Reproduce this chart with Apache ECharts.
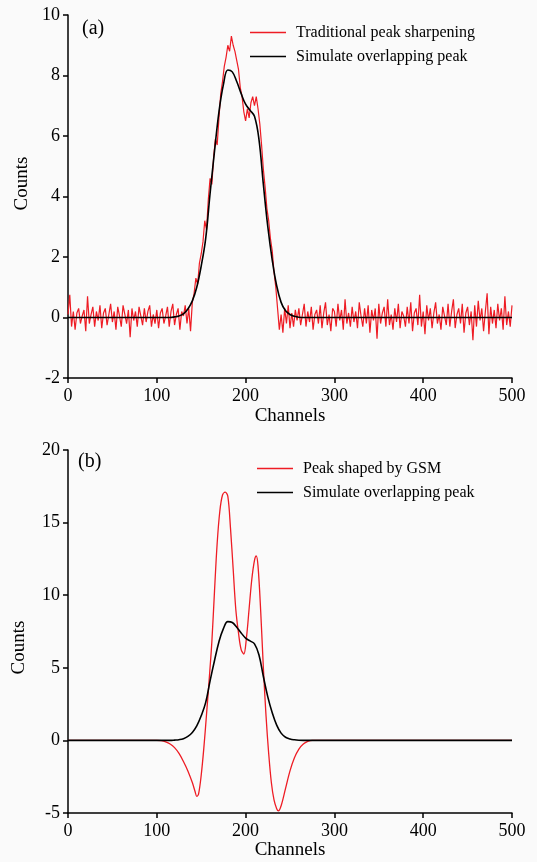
<!DOCTYPE html>
<html><head><meta charset="utf-8">
<script src="https://cdn.jsdelivr.net/npm/echarts@6/dist/echarts.min.js"></script>
<style>html,body{margin:0;padding:0;background:#fafafa}#c{width:537px;height:862px}</style>
</head><body><div id="c"></div>
<script>
// ---- Data ----
// Panel (a): traditional peak sharpening, sampled every 2 channels (0..500)
const sharpStep = 2;
const sharpValues = [
 0.1, 0.75, -0.3, 0.2, -0.4, 0.15, 0.3, -0.2, 0.05, 0.25,
 -0.45, 0.7, -0.2, 0.1, 0.35, -0.3, 0.2, -0.1, 0.4, -0.35,
 0.15, 0.3, -0.25, 0.1, 0.45, -0.15, 0.2, -0.4, 0.35, 0.05,
 -0.3, 0.4, 0.1, -0.2, 0.25, -0.65, 0.3, -0.1, 0.2, -0.3,
 0.35, 0.05, -0.25, 0.3, -0.15, 0.2, 0.4, -0.3, 0.1, -0.2,
 0.25, -0.35, 0.15, 0.3, -0.2, 0.05, 0.35, -0.3, 0.2, 0.45,
 -0.25, 0.1, 0.3, -0.4, 0.2, 0.05, 0.4, -0.2, 0.3, -0.45,
 0.5, 0.8, 1.3, 1.1, 1.8, 2.1, 2.5, 3.2, 2.9, 3.9,
 4.6, 4.4, 5.3, 5.9, 5.7, 6.6, 7.4, 7.8, 8.3, 8.6,
 9.0, 8.8, 9.3, 9.0, 8.8, 8.5, 8.2, 7.6, 7.3, 6.8,
 6.5, 6.9, 6.6, 7.1, 7.3, 7.0, 7.3, 6.9, 6.4, 5.7,
 4.9, 4.3, 3.6, 3.2, 2.6, 2.2, 1.5, 1.0, 0.3, -0.4,
 0.1, -0.5, 0.3, -0.2, 0.4, -0.35, 0.15, -0.3, 0.25, -0.1,
 0.3, -0.25, 0.1, 0.45, -0.3, 0.2, -0.15, 0.35, -0.4, 0.1,
 0.25, -0.2, 0.4, -0.35, 0.15, 0.5, -0.25, 0.1, -0.45, 0.3,
 0.2, -0.3, 0.45, -0.1, 0.25, -0.4, 0.6, -0.2, 0.15, -0.3,
 0.35, -0.15, 0.2, -0.35, 0.5, 0.05, -0.3, 0.3, -0.2, 0.4,
 -0.5, 0.25, -0.1, 0.3, -0.7, 0.45, -0.2, 0.15, 0.35, -0.3,
 0.6, -0.25, 0.1, -0.4, 0.3, -0.15, 0.45, -0.35, 0.2, 0.05,
 -0.3, 0.35, -0.2, 0.5, -0.45, 0.15, 0.3, -0.25, 0.75, -0.3,
 0.2, -0.55, 0.4, -0.1, 0.3, -0.35, 0.15, 0.5, -0.2, 0.1,
 -0.4, 0.35, 0.05, -0.25, 0.45, -0.3, 0.2, 0.6, -0.35, 0.1,
 0.3, -0.2, 0.45, -0.5, 0.15, 0.35, -0.25, 0.2, -0.75, 0.4,
 -0.3, 0.55, -0.1, 0.3, -0.45, 0.2, 0.8, -0.55, 0.35, -0.2,
 0.25, -0.35, 0.45, -0.1, 0.3, -0.4, 0.7, -0.25, 0.2, -0.3,
 0.4
];
// Simulated overlapping peak, sampled every 5 channels (0..500)
const simStep = 5;
const simValues = [
 0,0,0,0,0,0,0,0,0,0,
 0,0,0,0,0,0,0,0,0,0,
 0,0,0,0,0.02,0.05,0.12,0.28,0.55,1.0,
 1.7,2.6,4.1,5.5,6.8,7.7,8.18,8.12,7.8,7.4,
 7.05,6.85,6.65,5.9,4.4,3.0,1.9,1.05,0.5,0.22,
 0.1,0.04,0.01,0,0,0,0,0,0,0,
 0,0,0,0,0,0,0,0,0,0,
 0,0,0,0,0,0,0,0,0,0,
 0,0,0,0,0,0,0,0,0,0,
 0,0,0,0,0,0,0,0,0,0,
 0
];
// Panel (b): peak shaped by GSM
const gsmChannels = [0,50,100,105,110,115,120,125,130,135,140,143,145,147,150,153,156,159,162,165,168,171,174,177,180,183,186,189,192,195,198,201,204,207,210,212,214,217,220,223,226,229,232,235,237,240,245,250,255,260,265,270,275,300,400,500];
const gsmValues   = [0,0,0,-0.02,-0.1,-0.25,-0.5,-0.9,-1.45,-2.1,-2.9,-3.5,-3.85,-3.7,-2.4,-0.5,1.8,4.2,6.8,10.3,13.6,15.8,16.9,17.1,16.8,14.6,11.8,9.0,7.4,6.25,5.95,7.1,9.1,11.1,12.4,12.7,12.0,8.9,5.0,1.7,-0.9,-2.9,-4.1,-4.7,-4.85,-4.5,-3.3,-2.1,-1.2,-0.6,-0.25,-0.07,0,0,0,0];

const xTicks = [0, 100, 200, 300, 400, 500];
const names = {
  sharp: 'Traditional peak sharpening',
  sim: 'Simulate overlapping peak',
  gsm: 'Peak shaped by GSM'
};

// ---- Build ----
const sharpData = sharpValues.map((v, i) => [i * sharpStep, v]);
const simData = simValues.map((v, i) => [i * simStep, v]);
const gsmData = gsmValues.map((v, i) => [gsmChannels[i], v]);

const FONT = '"Liberation Serif", "Times New Roman", serif';
const RED = '#ee1c24';
const axisCommon = {
  axisLine: { show: true, onZero: false, lineStyle: { color: '#000', width: 1.5 } },
  axisTick: { show: true, inside: false, length: 5, lineStyle: { color: '#000', width: 1.5 } },
  axisLabel: { color: '#000', fontFamily: FONT, fontSize: 18 },
  splitLine: { show: false },
  nameTextStyle: { color: '#000', fontFamily: FONT, fontSize: 19 }
};
function xAx(gi, gap) {
  return Object.assign({}, axisCommon, {
    type: 'value', gridIndex: gi, min: xTicks[0], max: xTicks[xTicks.length - 1], interval: 100,
    name: 'Channels', nameLocation: 'middle', nameGap: gap,
    axisLabel: Object.assign({}, axisCommon.axisLabel, { margin: 9 })
  });
}
const legendCommon = {
  orient: 'vertical', icon: 'rect', itemWidth: 36, itemHeight: 1.5, itemGap: 5, padding: 0,
  textStyle: { color: '#000', fontFamily: FONT, fontSize: 16, lineHeight: 19, padding: [0, 0, 0, 5] },
  selectedMode: false
};

const option = {
  backgroundColor: '#fafafa',
  animation: false,
  title: [
    { text: '(a)', left: 82, top: 19, textStyle: { fontFamily: FONT, fontSize: 20, fontWeight: 'normal', color: '#000' }, padding: 0 },
    { text: '(b)', left: 78, top: 452, textStyle: { fontFamily: FONT, fontSize: 20, fontWeight: 'normal', color: '#000' }, padding: 0 }
  ],
  legend: [
    Object.assign({}, legendCommon, { left: 250, top: 23, data: [names.sharp, names.sim] }),
    Object.assign({}, legendCommon, { left: 257, top: 459, data: [names.gsm, names.sim] })
  ],
  grid: [
    { left: 68, right: 25, top: 15, height: 363 },
    { left: 68, right: 25, top: 450, height: 363 }
  ],
  xAxis: [xAx(0, 29), xAx(1, 27)],
  yAxis: [
    Object.assign({}, axisCommon, { type: 'value', gridIndex: 0, min: -2, max: 10, interval: 2,
      name: 'Counts', nameLocation: 'middle', nameGap: 20,
      nameTextStyle: Object.assign({}, axisCommon.nameTextStyle, { padding: [0, 0, 0, 26] }),
      axisLabel: Object.assign({}, axisCommon.axisLabel, { margin: 8 }) }),
    Object.assign({}, axisCommon, { type: 'value', gridIndex: 1, min: -5, max: 20, interval: 5,
      name: 'Counts', nameLocation: 'middle', nameGap: 39,
      nameTextStyle: Object.assign({}, axisCommon.nameTextStyle, { padding: [0, 32, 0, 0] }),
      axisLabel: Object.assign({}, axisCommon.axisLabel, { margin: 8 }) })
  ],
  series: [
    { name: names.sharp, type: 'line', xAxisIndex: 0, yAxisIndex: 0, data: sharpData, symbol: 'none',
      lineStyle: { color: RED, width: 1.2 }, itemStyle: { color: RED } },
    { name: names.sim, type: 'line', xAxisIndex: 0, yAxisIndex: 0, data: simData, symbol: 'none', smooth: 0.4,
      lineStyle: { color: '#000', width: 1.6 }, itemStyle: { color: '#000' } },
    { name: names.gsm, type: 'line', xAxisIndex: 1, yAxisIndex: 1, data: gsmData, symbol: 'none', smooth: 0.35,
      lineStyle: { color: RED, width: 1.3 }, itemStyle: { color: RED } },
    { name: names.sim, type: 'line', xAxisIndex: 1, yAxisIndex: 1, data: simData, symbol: 'none', smooth: 0.4,
      lineStyle: { color: '#000', width: 1.6 }, itemStyle: { color: '#000' } }
  ]
};
const chart = echarts.init(document.getElementById('c'), null, { renderer: 'canvas' });
chart.setOption(option);
</script>
</body></html>
